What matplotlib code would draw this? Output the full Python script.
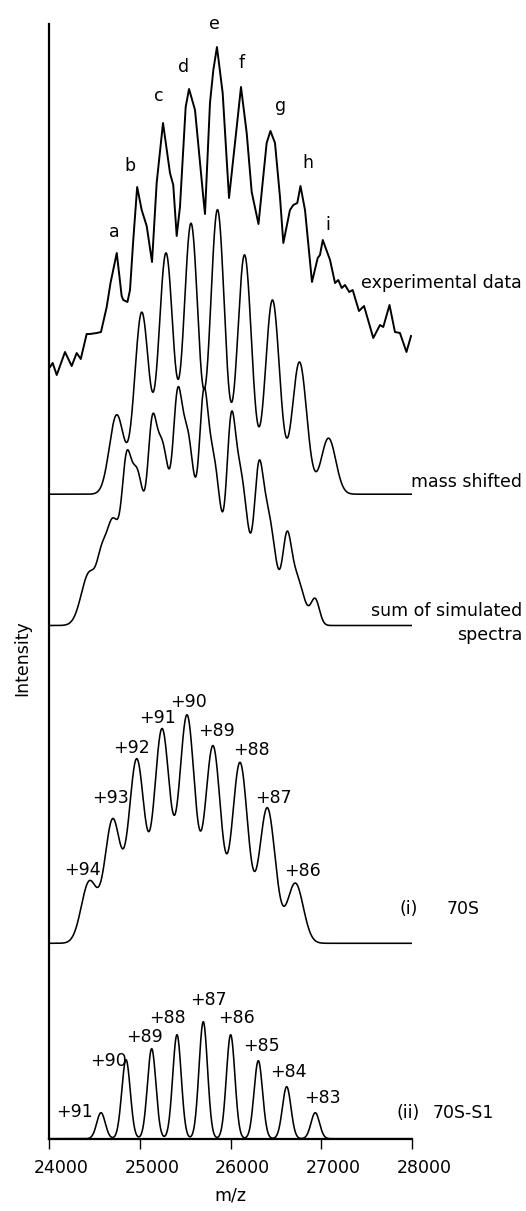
import numpy as np
import matplotlib.pyplot as plt
from matplotlib.transforms import ScaledTranslation

plt.rcParams['font.family'] = ['DejaVu Sans']

W, H = 526, 1211

# ---- data (m/z, intensity in arbitrary units) ----
# (i) 70S simulated charge states
s70_charge = ["+94", "+93", "+92", "+91", "+90", "+89", "+88", "+87", "+86"]
s70_mz = [24441, 24699, 24964, 25243, 25519, 25805, 26103, 26404, 26713]
s70_int = [61, 122, 182, 212, 226, 196, 180, 135, 60]

# (ii) 70S-S1 simulated charge states
s1_charge = ["+91", "+90", "+89", "+88", "+87", "+86", "+85", "+84", "+83"]
s1_mz = [24570, 24846, 25129, 25408, 25698, 26000, 26305, 26618, 26933]
s1_int = [26, 79, 90, 104, 117, 104, 78, 52, 26]

# sum of simulated spectra: 70S and 70S-S1 contributions
sum_70s_int = [52, 104, 152, 178, 190, 165, 150, 112, 50]
sum_s1_int = [26, 84, 104, 118, 132, 120, 92, 60, 25]

# mass shifted spectrum
shift_mz = [24743, 25019, 25287, 25563, 25855, 26153, 26461, 26759, 27079]
shift_int = [79, 181, 240, 270, 284, 239, 194, 132, 56]

# experimental data trace
exp_mz = [24008, 24037, 24082, 24173, 24247, 24302, 24347, 24412, 24449, 24523,
          24570, 24633, 24675, 24744, 24798, 24816, 24862, 24890, 24926, 24969,
          25019, 25074, 25133, 25184, 25254, 25331, 25367, 25405, 25441, 25504,
          25541, 25607, 25698, 25717, 25772, 25809, 25849, 25912, 25982, 26067,
          26114, 26177, 26232, 26307, 26397, 26439, 26489, 26544, 26581, 26654,
          26691, 26735, 26770, 26820, 26897, 26960, 26985, 27016, 27096, 27151,
          27187, 27225, 27261, 27308, 27346, 27415, 27471, 27573, 27647, 27683,
          27752, 27812, 27867, 27939, 27989]
exp_int = [33, 37, 25, 48, 34, 47, 41, 66, 66, 67,
           68, 93, 117, 147, 104, 100, 98, 110, 160, 213,
           190, 174, 138, 217, 277, 227, 215, 164, 193, 293,
           311, 290, 203, 186, 297, 330, 353, 307, 202, 273,
           313, 267, 208, 176, 257, 269, 257, 203, 157, 190,
           195, 197, 214, 190, 118, 142, 145, 160, 140, 117,
           120, 112, 115, 108, 110, 89, 94, 62, 75, 73,
           95, 68, 67, 48, 64]

peak_letters = ["a", "b", "c", "d", "e", "f", "g", "h", "i"]
xticks = [24000, 25000, 26000, 27000, 28000]

# ---- layout (pixels of the 526x1211 picture) ----
ax_l, ax_r, ax_b, ax_t = 49.3, 412.0, 1138.7, 24.0
offs = {"s1": 0, "s70": 195.4, "sum": 513.2, "shift": 644.5, "exp": 738.7}
letter_pos = [(114, 236.7), (130, 171), (159.3, 101), (184, 71.7), (214, 29.3),
              (241.5, 68.3), (281, 111), (307.5, 167.7), (328, 230)]
s70_label_pos = [(82.5, 875), (110.8, 802.7), (131.5, 753.3), (157.2, 723.3),
                 (188.2, 707.3), (216.2, 735.7), (251.8, 755), (273, 803.3),
                 (302.5, 875.7)]
s1_label_pos = [(74.5, 1117.3), (108.8, 1066), (144.5, 1041.7), (167.5, 1022.7),
                (208.3, 1005), (236.8, 1022.7), (261.5, 1050.7), (288.8, 1077.3),
                (322.5, 1103.3)]
fs = 12.5


def fpos(x, y):
    return x / W, 1 - y / H


def spectrum(mz, centres, heights, sigma):
    c = np.asarray(centres, float)[:, None]
    h = np.asarray(heights, float)[:, None]
    return (h * np.exp(-(mz[None, :] - c) ** 2 / (2 * sigma ** 2))).sum(axis=0)


fig = plt.figure(figsize=(W / 100, H / 100), dpi=100)
ax = fig.add_axes([ax_l / W, 1 - ax_b / H, (ax_r - ax_l) / W, (ax_b - ax_t) / H])
ax.set_xlim(24000, 28000)
ax.set_ylim(0, ax_b - ax_t)

mz = np.linspace(24000, 28000, 2001)
lw = 1.15

ax.plot(mz, offs["s1"] + spectrum(mz, s1_mz, s1_int, 47), color="black", lw=lw)
ax.plot(mz, offs["s70"] + spectrum(mz, s70_mz, s70_int, 88), color="black", lw=lw)
sum_curve = spectrum(mz, s70_mz, sum_70s_int, 88) + spectrum(mz, s1_mz, sum_s1_int, 47)
ax.plot(mz, offs["sum"] + sum_curve, color="black", lw=lw)
ax.plot(mz, offs["shift"] + spectrum(mz, shift_mz, shift_int, 80), color="black", lw=lw)
ax.plot(exp_mz, offs["exp"] + np.array(exp_int), color="black", lw=1.4,
        solid_joinstyle="round")

for s in ["top", "right"]:
    ax.spines[s].set_visible(False)
for s in ["left", "bottom"]:
    ax.spines[s].set_linewidth(1.6)
ax.set_yticks([])
ax.set_xticks(xticks)
ax.tick_params(axis="x", direction="out", length=7.4, width=1.0, labelsize=fs, pad=7)
# tick labels sit a little to the right of their ticks in the original
shift = ScaledTranslation(12 / 100, 0, fig.dpi_scale_trans)
for lab in ax.get_xticklabels():
    lab.set_transform(lab.get_transform() + shift)
ax.set_xlabel("m/z", fontsize=fs)
ax.xaxis.set_label_coords(0.5, (ax_b - 1186) / (ax_b - ax_t))
ax.set_ylabel("Intensity", fontsize=fs)
ax.yaxis.set_label_coords((31.7 - ax_l) / (ax_r - ax_l), (ax_b - 658) / (ax_b - ax_t))

for s, (x, y) in zip(peak_letters, letter_pos):
    fig.text(*fpos(x, y), s, ha="center", va="baseline", fontsize=fs)
for s, (x, y) in zip(s70_charge, s70_label_pos):
    fig.text(*fpos(x, y), s, ha="center", va="baseline", fontsize=fs)
for s, (x, y) in zip(s1_charge, s1_label_pos):
    fig.text(*fpos(x, y), s, ha="center", va="baseline", fontsize=fs)

fig.text(*fpos(522, 288.3), "experimental data", ha="right", va="baseline", fontsize=fs)
fig.text(*fpos(522, 486.7), "mass shifted", ha="right", va="baseline", fontsize=fs)
fig.text(*fpos(522, 616.5), "sum of simulated", ha="right", va="baseline", fontsize=fs)
fig.text(*fpos(522, 640), "spectra", ha="right", va="baseline", fontsize=fs)
fig.text(*fpos(399.3, 913.5), "(i)", ha="left", va="baseline", fontsize=fs)
fig.text(*fpos(446.7, 913.5), "70S", ha="left", va="baseline", fontsize=fs)
fig.text(*fpos(396, 1117.5), "(ii)", ha="left", va="baseline", fontsize=fs)
fig.text(*fpos(432.3, 1117.5), "70S-S1", ha="left", va="baseline", fontsize=fs)

fig.savefig("out.png", dpi=100)
